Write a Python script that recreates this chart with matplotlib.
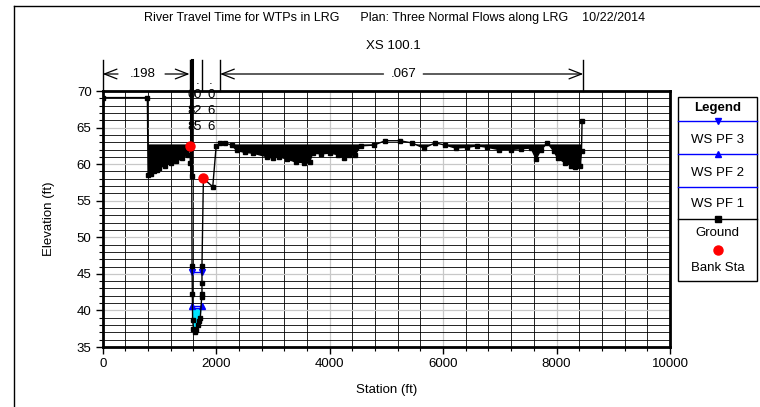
import matplotlib
matplotlib.use('Agg')
import matplotlib.pyplot as plt
import numpy as np
from matplotlib.lines import Line2D
from matplotlib.patches import Rectangle
from matplotlib.ticker import MultipleLocator

plt.rcParams['font.family'] = ['Liberation Sans', 'DejaVu Sans']

# ---------------- data ----------------
ground_sta = [0, 787, 800, 850, 900, 950, 1000, 1100, 1200, 1300, 1400, 1500, 1540,
              1545, 1570, 1575, 1580, 1585, 1600, 1620, 1650, 1680, 1700, 1720,
              1745, 1750, 1750, 1750, 1775, 1940, 2000, 2070, 2150, 2275, 2360,
              2500, 2650, 2900, 3000, 3100, 3250, 3400, 3550, 3650, 3700, 3850,
              4000, 4150, 4250, 4350, 4450, 4550, 4780, 4980, 5240, 5450, 5660,
              5860, 6040, 6220, 6430, 6600, 6780, 6980, 7190, 7370, 7550, 7640,
              7720, 7840, 7950, 8020, 8150, 8250, 8330, 8380, 8420, 8440, 8450]
ground_elev = [69.1, 69.1, 58.5, 58.6, 59.0, 59.2, 59.5, 59.8, 60.1, 60.4, 60.8, 61.3, 62.5,
               60.2, 58.4, 46.1, 42.3, 38.7, 37.5, 37.0, 37.3, 38.0, 38.5, 39.0,
               41.8, 42.3, 43.8, 46.1, 58.05, 56.9, 62.5, 62.85, 62.9, 62.6, 61.9,
               61.6, 61.5, 61.0, 60.8, 61.0, 60.7, 60.3, 60.2, 60.3, 61.5, 61.4,
               61.5, 61.3, 60.8, 61.2, 61.3, 62.5, 62.6, 63.2, 63.2, 62.9, 62.2,
               62.9, 62.6, 62.2, 62.3, 62.5, 62.3, 62.0, 62.0, 62.1, 62.2, 60.7,
               61.9, 62.9, 61.8, 60.8, 60.2, 59.8, 59.6, 60.0, 59.7, 61.8, 65.9]
bank_sta = [1540, 1775]
bank_elev = [62.5, 58.05]
ws_names = ["WS PF 3", "WS PF 2", "WS PF 1"]
ws_elev = [45.3, 40.6, 40.3]
ws_left, ws_right = 1575, 1750
block_elev = 62.7
block_ranges = [(787, 1540), (2000, 8450)]
n_values = [".198", ".067"]
n_stacked = [".088", ".025", ".066"]
n_lines = [0, 1531, 1570, 1757, 2069, 8471]
x_ticks = [0, 2000, 4000, 6000, 8000, 10000]
y_ticks = [35, 40, 45, 50, 55, 60, 65, 70]

W, H = 760, 407
fig = plt.figure(figsize=(W / 100, H / 100), dpi=100)

def fpx(x, y):
    return (x / W, 1 - y / H)

ax = fig.add_axes([102.7 / W, 1 - 347 / H, (670 - 102.7) / W, (347 - 91) / H])
ax.set_xlim(0, 10000)
ax.set_ylim(35, 70)

# grid
ax.xaxis.set_major_locator(MultipleLocator(2000))
ax.xaxis.set_minor_locator(MultipleLocator(400))
ax.yaxis.set_major_locator(MultipleLocator(5))
ax.yaxis.set_minor_locator(MultipleLocator(1))
ax.set_axisbelow(True)
ax.grid(which='minor', color='black', lw=0.6)
ax.grid(which='major', color='#c8c8c8', lw=0.9)
ax.tick_params(which='major', direction='out', length=5, width=1, labelsize=9.5, pad=3)
ax.tick_params(which='minor', direction='out', length=3, width=0.8)
for s in ax.spines.values():
    s.set_linewidth(2)
ax.set_xticks(x_ticks)
ax.set_yticks(y_ticks)
ax.set_xlabel("Station (ft)", fontsize=9.5, labelpad=10)
ax.set_ylabel("Elevation (ft)", fontsize=9.5, labelpad=16)

gs = np.array(ground_sta, dtype=float)
ge = np.array(ground_elev, dtype=float)

# blocked fill
mask = np.zeros(len(gs), bool)
for a, b in block_ranges:
    mask |= (gs >= a) & (gs <= b)
ax.fill_between(gs, ge, block_elev, where=mask & (ge < block_elev), interpolate=True,
                color='black', lw=0, zorder=3)

# water fill for WS PF 1
cmask = (gs >= ws_left) & (gs <= ws_right)
ax.fill_between(gs[cmask], ge[cmask], ws_elev[2], where=ge[cmask] < ws_elev[2],
                interpolate=True, color='#00e5ff', lw=0, zorder=3)

# thick divider line at channel
ax.plot([1560, 1560], [70, 58.4], color='black', lw=2.2, zorder=4)

# WS lines
ax.plot([ws_left, ws_right], [ws_elev[0]] * 2, color='blue', lw=1, marker='v', ms=5, zorder=5)
ax.plot([ws_left, ws_right], [ws_elev[1]] * 2, color='blue', lw=1, marker='^', ms=5, zorder=5)
ax.plot([ws_left, ws_right], [ws_elev[2]] * 2, color='blue', lw=1, zorder=5)

# ground
ax.plot(gs, ge, color='black', lw=1, marker='s', ms=3.5, zorder=6)
# bank stations
ax.plot(bank_sta, bank_elev, ls='none', marker='o', color='red', ms=6.5, zorder=7)

# header: n-value dividers and arrows
ytop = 70 + (91 - 60) / 7.314
yarr = 70 + (91 - 74) / 7.314
for i, xs in enumerate(n_lines):
    ax.plot([xs, xs], [70, ytop], color='black', lw=2.2 if xs == 1570 else 1.0,
            clip_on=False, zorder=8)
ap = dict(arrowstyle='->,head_length=0.9,head_width=0.35', lw=0.9, color='black',
          shrinkA=0, shrinkB=0)
ax.annotate('', xy=(0, yarr), xytext=(270, yarr), arrowprops=ap, annotation_clip=False)
ax.annotate('', xy=(1531, yarr), xytext=(1099, yarr), arrowprops=ap, annotation_clip=False)
ax.text(711, yarr, n_values[0], ha='center', va='center', fontsize=9.5)
ax.annotate('', xy=(2069, yarr), xytext=(4950, yarr), arrowprops=ap, annotation_clip=False)
ax.annotate('', xy=(8471, yarr), xytext=(5650, yarr), arrowprops=ap, annotation_clip=False)
ax.text(5296, yarr, n_values[1], ha='center', va='center', fontsize=9.5)

row_y = [71.3, 69.45, 67.27, 65.08]
for xs, val in zip([1557, 1665, 1905], n_stacked):
    chars = [val[0], val[1], val[2], val[3]]
    for ch, yy in zip(chars, row_y):
        ax.text(xs, yy, ch, ha='center', va='center', fontsize=9.5, zorder=9, clip_on=False)

# titles
fig.text(*fpx(395, 18), "River Travel Time for WTPs in LRG      Plan: Three Normal Flows along LRG    10/22/2014",
         ha='center', va='center', fontsize=9)
fig.text(*fpx(393, 46), "XS 100.1", ha='center', va='center', fontsize=9.5)

# outer frame
fig.add_artist(Line2D([14 / W, 14 / W], [1 - 6 / H, 0], color='black', lw=1))
fig.add_artist(Line2D([14 / W, 1], [1 - 6 / H, 1 - 6 / H], color='black', lw=1))

# legend (manual)
lx0, lx1 = 678, 757
ltop, lbot = 97, 281
fig.add_artist(Rectangle(fpx(lx0, lbot), (lx1 - lx0) / W, (lbot - ltop) / H,
                         transform=fig.transFigure, fill=False, lw=1, ec='black'))
lcx = (lx0 + lx1) / 2
fig.text(*fpx(lcx, 108), "Legend", ha='center', va='center', fontsize=9.5, weight='bold')
entries = [("WS PF 3", 'blue', 'v'), ("WS PF 2", 'blue', '^'), ("WS PF 1", 'blue', None),
           ("Ground", 'black', 's')]
line_y = [121, 154, 187, 219]
text_y = [140, 173, 204, 233]
for (name, col, mk), ly, ty in zip(entries, line_y, text_y):
    fig.add_artist(Line2D([lx0 / W, lx1 / W], [1 - ly / H] * 2, color=col, lw=1))
    if mk:
        fig.add_artist(Line2D([lcx / W], [1 - ly / H], color=col, marker=mk, ms=5 if mk != 's' else 4.5,
                              ls='none'))
    fig.text(*fpx(lcx, ty), name, ha='center', va='center', fontsize=9.5)
fig.add_artist(Line2D([lcx / W], [1 - 250 / H], color='red', marker='o', ms=6.5, ls='none'))
fig.text(*fpx(lcx, 268), "Bank Sta", ha='center', va='center', fontsize=9.5)

fig.savefig('out.png', dpi=100)
